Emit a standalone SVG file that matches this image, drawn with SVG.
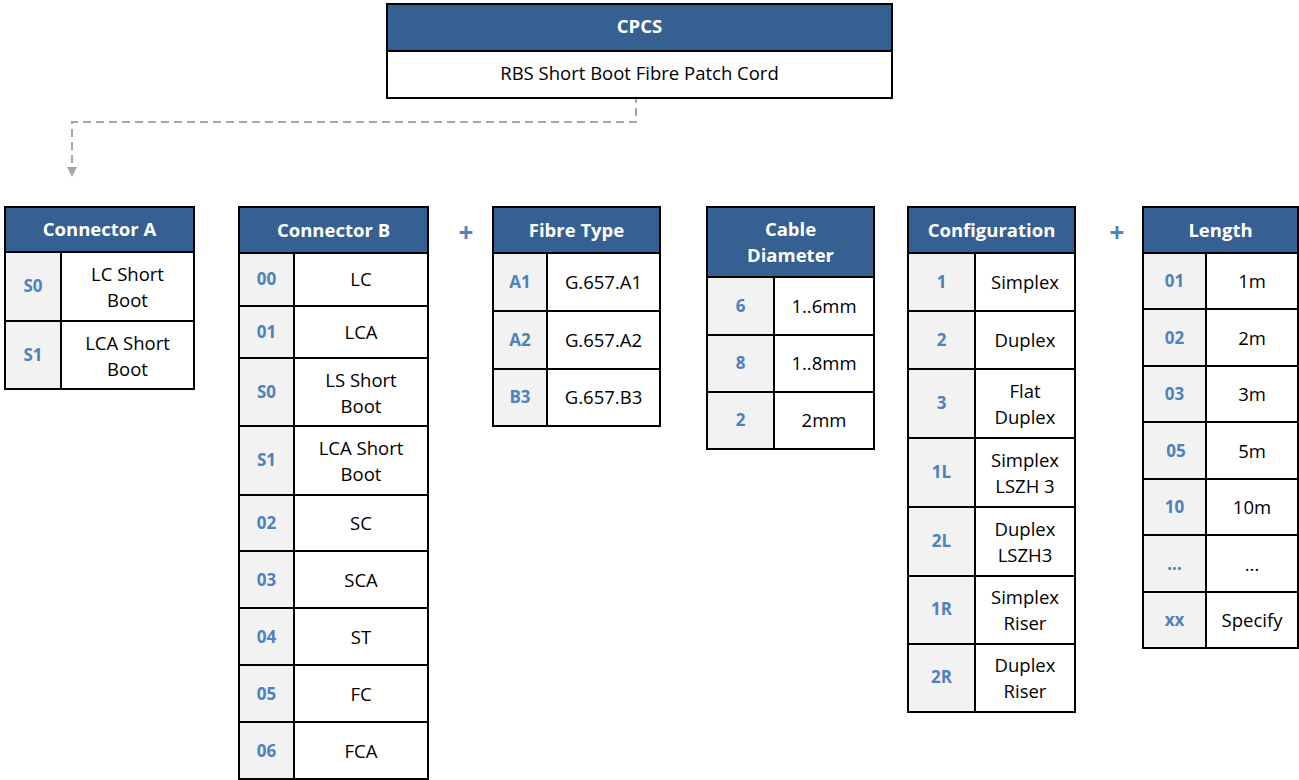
<svg xmlns="http://www.w3.org/2000/svg" width="1299" height="780" viewBox="0 0 1299 780">
<style>
.hd{fill:#366092;stroke:#000;stroke-width:2}
.k{fill:#f2f2f2;stroke:#000;stroke-width:2}
.v{fill:#fff;stroke:#000;stroke-width:2}
.ht{font-family:"Open Sans","Liberation Sans",sans-serif;font-size:18.5px;font-weight:bold;fill:#fff;text-anchor:middle}
.kt{font-family:"Open Sans","Liberation Sans",sans-serif;font-size:17px;font-weight:bold;fill:#4f81bd;text-anchor:middle}
.vt{font-family:"Open Sans","Liberation Sans",sans-serif;font-size:18.5px;fill:#000;text-anchor:middle}
.pl{font-family:"Open Sans","Liberation Sans",sans-serif;font-size:26px;font-weight:bold;fill:#4f81bd;text-anchor:middle}
</style>
<defs>
<marker id="ah" markerWidth="10" markerHeight="10" refX="5" refY="5" orient="auto" markerUnits="userSpaceOnUse">
<path d="M0,0 L10,5 L0,10 z" fill="#a6a6a6"/>
</marker>
</defs>
<rect width="1299" height="780" fill="#fff"/>
<g id="connectors">
<path d="M636,95 V122 H72 V172" fill="none" stroke="#a6a6a6" stroke-width="2" stroke-dasharray="8,5" marker-end="url(#ah)"/>
</g>
<g id="cpcs">
<rect class="hd" x="387" y="4" width="505" height="47"/>
<rect class="v" x="387" y="51" width="505" height="47"/>
<text class="ht" x="639.5" y="33">CPCS</text>
<text class="vt" x="639.5" y="80">RBS Short Boot Fibre Patch Cord</text>
</g>
<g id="connector-a">
<rect class="hd" x="5" y="207" width="189" height="45"/>
<text class="ht" x="99.5" y="236">Connector A</text>
<rect class="k" x="5" y="252" width="56" height="69"/><rect class="v" x="61" y="252" width="133" height="69"/>
<text class="kt" x="33" y="292">S0</text><text class="vt" x="127.5" y="281">LC Short</text><text class="vt" x="127.5" y="307">Boot</text>
<rect class="k" x="5" y="321" width="56" height="68"/><rect class="v" x="61" y="321" width="133" height="68"/>
<text class="kt" x="33" y="361">S1</text><text class="vt" x="127.5" y="350">LCA Short</text><text class="vt" x="127.5" y="376">Boot</text>
</g>
<g id="connector-b">
<rect class="hd" x="239" y="207" width="189" height="46"/>
<text class="ht" x="333.5" y="237">Connector B</text>
<rect class="k" x="239" y="253" width="55" height="53"/><rect class="v" x="294" y="253" width="134" height="53"/>
<text class="kt" x="266.5" y="285">00</text><text class="vt" x="361" y="286">LC</text>
<rect class="k" x="239" y="306" width="55" height="52"/><rect class="v" x="294" y="306" width="134" height="52"/>
<text class="kt" x="266.5" y="338">01</text><text class="vt" x="361" y="339">LCA</text>
<rect class="k" x="239" y="358" width="55" height="68"/><rect class="v" x="294" y="358" width="134" height="68"/>
<text class="kt" x="266.5" y="398">S0</text><text class="vt" x="361" y="387">LS Short</text><text class="vt" x="361" y="413">Boot</text>
<rect class="k" x="239" y="426" width="55" height="69"/><rect class="v" x="294" y="426" width="134" height="69"/>
<text class="kt" x="266.5" y="466">S1</text><text class="vt" x="361" y="455">LCA Short</text><text class="vt" x="361" y="481">Boot</text>
<rect class="k" x="239" y="495" width="55" height="56"/><rect class="v" x="294" y="495" width="134" height="56"/>
<text class="kt" x="266.5" y="529">02</text><text class="vt" x="361" y="530">SC</text>
<rect class="k" x="239" y="551" width="55" height="57"/><rect class="v" x="294" y="551" width="134" height="57"/>
<text class="kt" x="266.5" y="586">03</text><text class="vt" x="361" y="587">SCA</text>
<rect class="k" x="239" y="608" width="55" height="57"/><rect class="v" x="294" y="608" width="134" height="57"/>
<text class="kt" x="266.5" y="643">04</text><text class="vt" x="361" y="644">ST</text>
<rect class="k" x="239" y="665" width="55" height="57"/><rect class="v" x="294" y="665" width="134" height="57"/>
<text class="kt" x="266.5" y="700">05</text><text class="vt" x="361" y="701">FC</text>
<rect class="k" x="239" y="722" width="55" height="57"/><rect class="v" x="294" y="722" width="134" height="57"/>
<text class="kt" x="266.5" y="757">06</text><text class="vt" x="361" y="758">FCA</text>
</g>
<g id="plus-1"><text class="pl" x="466" y="242">+</text></g>
<g id="fibre-type">
<rect class="hd" x="493" y="207" width="167" height="46"/>
<text class="ht" x="576.5" y="237">Fibre Type</text>
<rect class="k" x="493" y="253" width="54" height="58"/><rect class="v" x="547" y="253" width="113" height="58"/>
<text class="kt" x="520" y="288">A1</text><text class="vt" x="603.5" y="289">G.657.A1</text>
<rect class="k" x="493" y="311" width="54" height="58"/><rect class="v" x="547" y="311" width="113" height="58"/>
<text class="kt" x="520" y="346">A2</text><text class="vt" x="603.5" y="347">G.657.A2</text>
<rect class="k" x="493" y="369" width="54" height="57"/><rect class="v" x="547" y="369" width="113" height="57"/>
<text class="kt" x="520" y="403">B3</text><text class="vt" x="603.5" y="404">G.657.B3</text>
</g>
<g id="cable-diameter">
<rect class="hd" x="707" y="207" width="167" height="70"/>
<text class="ht" x="790.5" y="236">Cable</text>
<text class="ht" x="790.5" y="262">Diameter</text>
<rect class="k" x="707" y="277" width="67" height="58"/><rect class="v" x="774" y="277" width="100" height="58"/>
<text class="kt" x="740.5" y="312">6</text><text class="vt" x="824" y="313">1..6mm</text>
<rect class="k" x="707" y="335" width="67" height="57"/><rect class="v" x="774" y="335" width="100" height="57"/>
<text class="kt" x="740.5" y="369">8</text><text class="vt" x="824" y="370">1..8mm</text>
<rect class="k" x="707" y="392" width="67" height="57"/><rect class="v" x="774" y="392" width="100" height="57"/>
<text class="kt" x="740.5" y="426">2</text><text class="vt" x="824" y="427">2mm</text>
</g>
<g id="configuration">
<rect class="hd" x="908" y="207" width="167" height="46"/>
<text class="ht" x="991.5" y="237">Configuration</text>
<rect class="k" x="908" y="253" width="67" height="58"/><rect class="v" x="975" y="253" width="100" height="58"/>
<text class="kt" x="941.5" y="288">1</text><text class="vt" x="1025" y="289">Simplex</text>
<rect class="k" x="908" y="311" width="67" height="58"/><rect class="v" x="975" y="311" width="100" height="58"/>
<text class="kt" x="941.5" y="346">2</text><text class="vt" x="1025" y="347">Duplex</text>
<rect class="k" x="908" y="369" width="67" height="69"/><rect class="v" x="975" y="369" width="100" height="69"/>
<text class="kt" x="941.5" y="409">3</text><text class="vt" x="1025" y="398">Flat</text><text class="vt" x="1025" y="424">Duplex</text>
<rect class="k" x="908" y="438" width="67" height="69"/><rect class="v" x="975" y="438" width="100" height="69"/>
<text class="kt" x="941.5" y="478">1L</text><text class="vt" x="1025" y="467">Simplex</text><text class="vt" x="1025" y="493">LSZH 3</text>
<rect class="k" x="908" y="507" width="67" height="69"/><rect class="v" x="975" y="507" width="100" height="69"/>
<text class="kt" x="941.5" y="547">2L</text><text class="vt" x="1025" y="536">Duplex</text><text class="vt" x="1025" y="562">LSZH3</text>
<rect class="k" x="908" y="576" width="67" height="68"/><rect class="v" x="975" y="576" width="100" height="68"/>
<text class="kt" x="941.5" y="615">1R</text><text class="vt" x="1025" y="604">Simplex</text><text class="vt" x="1025" y="630">Riser</text>
<rect class="k" x="908" y="644" width="67" height="68"/><rect class="v" x="975" y="644" width="100" height="68"/>
<text class="kt" x="941.5" y="683">2R</text><text class="vt" x="1025" y="672">Duplex</text><text class="vt" x="1025" y="698">Riser</text>
</g>
<g id="plus-2"><text class="pl" x="1117" y="242">+</text></g>
<g id="length">
<rect class="hd" x="1143" y="207" width="155" height="46"/>
<text class="ht" x="1220.5" y="237">Length</text>
<rect class="k" x="1143" y="253" width="63" height="56"/><rect class="v" x="1206" y="253" width="92" height="56"/>
<text class="kt" x="1174.5" y="287">01</text><text class="vt" x="1252" y="288">1m</text>
<rect class="k" x="1143" y="309" width="63" height="57"/><rect class="v" x="1206" y="309" width="92" height="57"/>
<text class="kt" x="1174.5" y="344">02</text><text class="vt" x="1252" y="345">2m</text>
<rect class="k" x="1143" y="366" width="63" height="56"/><rect class="v" x="1206" y="366" width="92" height="56"/>
<text class="kt" x="1174.5" y="400">03</text><text class="vt" x="1252" y="401">3m</text>
<rect class="k" x="1143" y="422" width="63" height="57"/><rect class="v" x="1206" y="422" width="92" height="57"/>
<text class="kt" x="1176" y="457">05</text><text class="vt" x="1252" y="458">5m</text>
<rect class="k" x="1143" y="479" width="63" height="56"/><rect class="v" x="1206" y="479" width="92" height="56"/>
<text class="kt" x="1174.5" y="513">10</text><text class="vt" x="1252" y="514">10m</text>
<rect class="k" x="1143" y="535" width="63" height="57"/><rect class="v" x="1206" y="535" width="92" height="57"/>
<text class="kt" x="1174.5" y="570">...</text><text class="vt" x="1252" y="571">...</text>
<rect class="k" x="1143" y="592" width="63" height="56"/><rect class="v" x="1206" y="592" width="92" height="56"/>
<text class="kt" x="1174.5" y="626">xx</text><text class="vt" x="1252" y="627">Specify</text>
</g>
</svg>
